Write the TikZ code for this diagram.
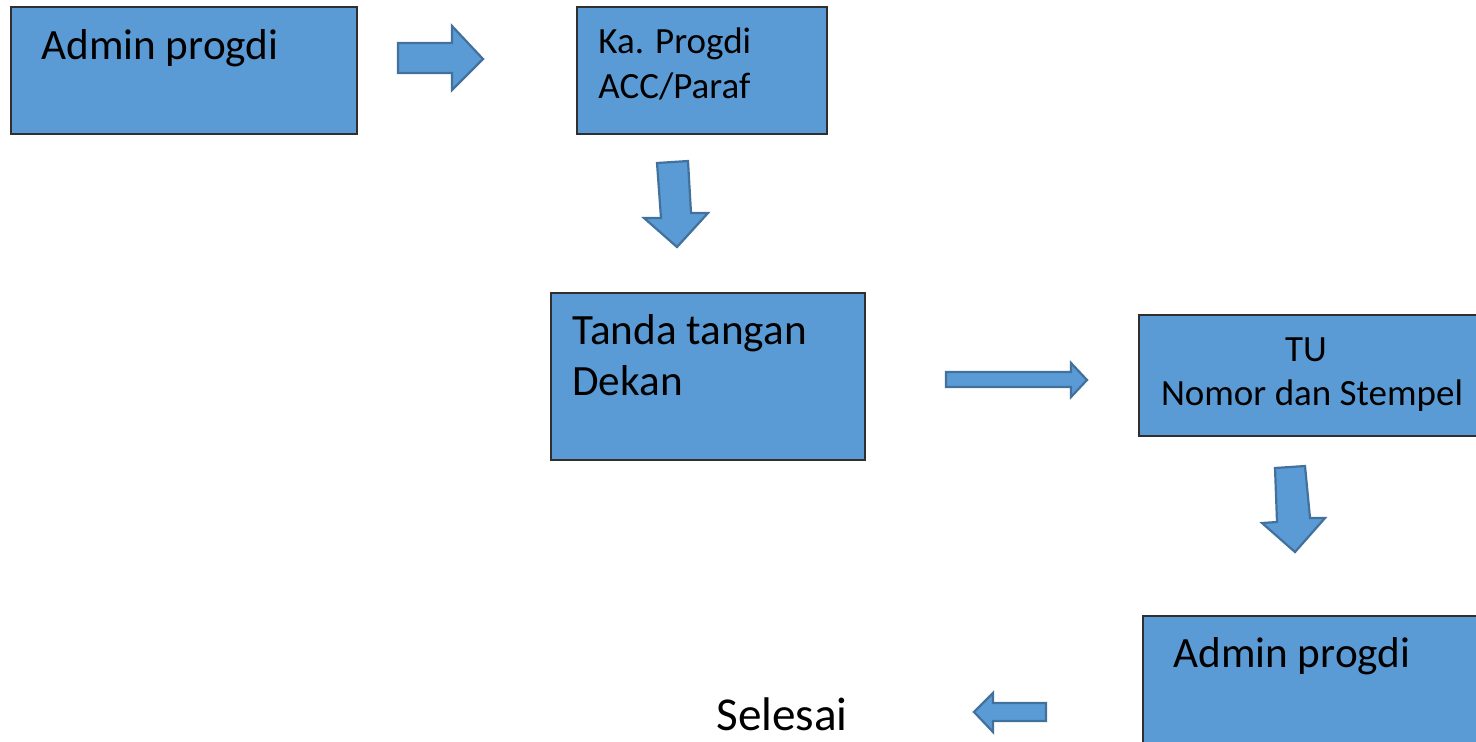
\documentclass[tikz,border=0pt]{standalone}
\usepackage{fontspec}
\setmainfont{Carlito}
\definecolor{boxfill}{HTML}{5B9BD5}
\definecolor{arrline}{HTML}{41719C}
\definecolor{boxline}{HTML}{2F2F2F}
\tikzset{
  flowbox/.style={draw=boxline, fill=boxfill, line width=0.6pt, inner sep=0pt},
  blockarrow/.style={draw=arrline, fill=boxfill, line width=1.1pt, line join=miter},
  lbl/.style={anchor=base west, inner sep=0pt, text=black},
  big/.style={font=\fontsize{21.6}{25}\selectfont},
  mid/.style={font=\fontsize{18.5}{22}\selectfont},
}
\begin{document}
\begin{tikzpicture}[x=0.5pt,y=-0.5pt]
\useasboundingbox (0,0) rectangle (1476,741);
\clip (0,0) rectangle (1476,741);
% boxes
\node[flowbox, minimum width=173pt, minimum height=63.5pt] (b1) at (184,70.5) {};
\node[flowbox, minimum width=125pt, minimum height=63.5pt] (b2) at (702,70.5) {};
\node[flowbox, minimum width=157pt, minimum height=83.5pt] (b3) at (708,376.5) {};
\node[flowbox, minimum width=172pt, minimum height=60.5pt] (b4) at (1311,375.5) {};
\node[flowbox, minimum width=170pt, minimum height=67pt] (b5) at (1313,683) {};
% texts
\node[lbl, big] (t1) at (41,59) {Admin progdi};
\node[lbl, mid] (t2a) at (598,53) {Ka. Progdi};
\node[lbl, mid] (t2b) at (598,98) {ACC/Paraf};
\node[lbl, big] (t3a) at (572,344) {Tanda tangan};
\node[lbl, big] (t3b) at (572,395) {Dekan};
\node[anchor=base, inner sep=0pt, mid] (t4a) at (1306,361) {TU};
\node[anchor=base, inner sep=0pt, mid] (t4b) at (1312,405) {Nomor dan Stempel};
\node[lbl, big] (t5) at (1173,667) {Admin progdi};
\node[lbl, font=\fontsize{23.6}{27}\selectfont] (sel) at (716,730) {Selesai};
% block arrows
\draw[blockarrow] (398,43) -- (452,43) -- (452,26) -- (483,59) -- (452,90) -- (452,73) -- (398,73) -- cycle;
\draw[blockarrow] (657,163) -- (688,161) -- (691,213) -- (708,213) -- (677,247) -- (644,218) -- (661,218) -- cycle;
\draw[blockarrow] (946,372) -- (1071,372) -- (1071,363) -- (1087,380) -- (1071,397) -- (1071,387) -- (946,387) -- cycle;
\draw[blockarrow] (1275,468) -- (1305,466) -- (1310,518) -- (1325,518) -- (1295,552) -- (1262,523) -- (1277,522) -- cycle;
\draw[blockarrow] (1046,703) -- (993,703) -- (993,693) -- (974,712) -- (993,732) -- (993,721) -- (1046,721) -- cycle;
\end{tikzpicture}
\end{document}
